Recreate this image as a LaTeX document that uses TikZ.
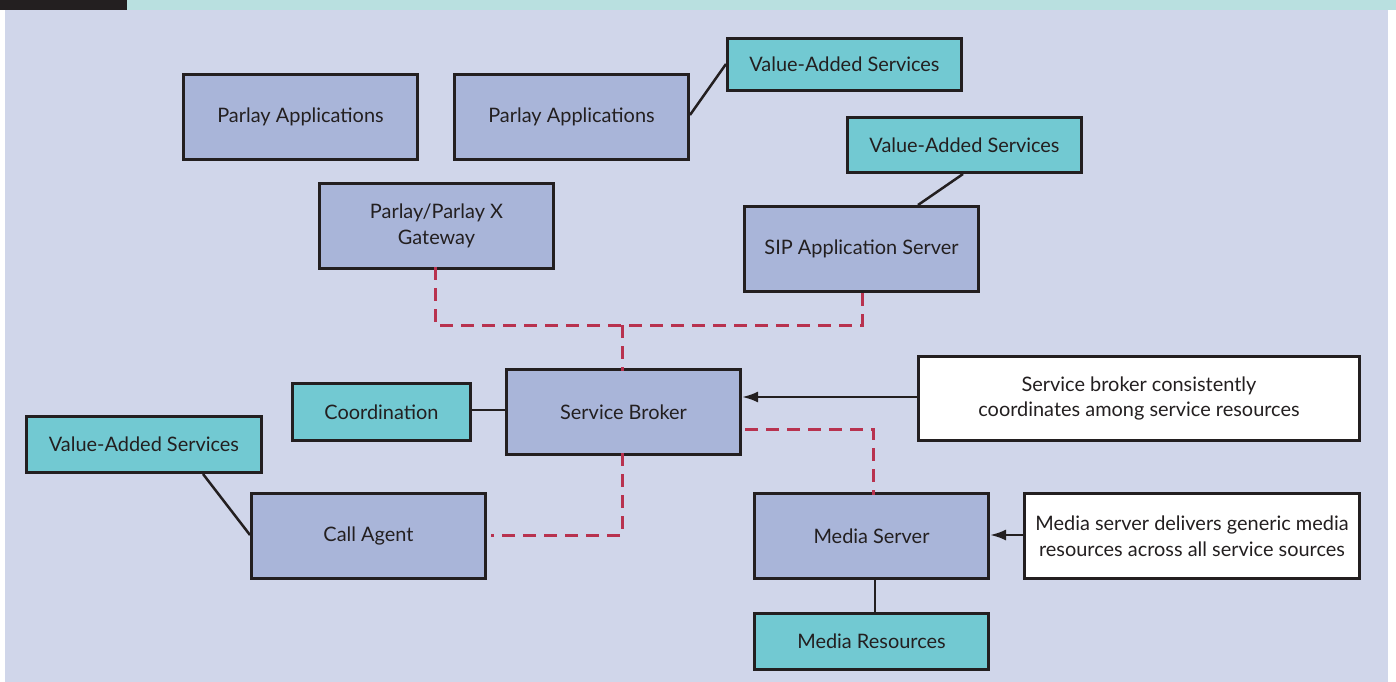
\documentclass[tikz,border=0pt]{standalone}
\usepackage{fontspec}
\setmainfont{Lato}
\usetikzlibrary{arrows.meta}
\definecolor{pagebg}{HTML}{D0D6EA}
\definecolor{bandbg}{HTML}{B9E0E0}
\definecolor{inkdark}{HTML}{231F20}
\definecolor{boxblue}{HTML}{A9B5D9}
\definecolor{boxteal}{HTML}{72C9D2}
\definecolor{linkred}{HTML}{B8324F}
\tikzset{
  base/.style={draw=inkdark, line width=3bp, anchor=north west, inner sep=0pt,
    align=center, font=\fontsize{20}{26}\selectfont, text=inkdark},
  bluebox/.style={base, fill=boxblue},
  tealbox/.style={base, fill=boxteal},
  notebox/.style={base, fill=white},
  link/.style={draw=inkdark, line width=2.5bp},
  ctrl/.style={draw=linkred, line width=3bp, dash pattern=on 13bp off 8bp},
  pointer/.style={link, -{Latex[length=16bp,width=11bp]}}
}
\begin{document}
\begin{tikzpicture}[x=1bp, y=-1bp]
\useasboundingbox (0,0) rectangle (1396,682);
% frame
\fill[white] (0,0) rectangle (1396,682);
\fill[pagebg] (5,10) rectangle (1388,682);
\fill[inkdark] (0,0) rectangle (127,10);
\fill[bandbg] (127,0) rectangle (1396,10);

% boxes
\node[bluebox, minimum width=234bp, minimum height=85bp] (pa1) at (182,73) {Parlay Applications};
\node[bluebox, minimum width=234bp, minimum height=85bp] (pa2) at (453,73) {Parlay Applications};
\node[tealbox, minimum width=234bp, minimum height=52bp] (vas1) at (726,37) {Value-Added Services};
\node[tealbox, minimum width=234bp, minimum height=55bp] (vas2) at (846,116) {Value-Added Services};
\node[bluebox, minimum width=234bp, minimum height=85bp] (gw) at (318,182) {Parlay/Parlay X\\Gateway};
\node[bluebox, minimum width=234bp, minimum height=85bp] (sip) at (743,205) {SIP Application Server};
\node[tealbox, minimum width=178bp, minimum height=57bp] (coord) at (291,382) {Coordination};
\node[bluebox, minimum width=234bp, minimum height=85bp] (sb) at (505,368) {Service Broker};
\node[notebox, minimum width=441bp, minimum height=84bp] (n1) at (917,355) {Service broker consistently\\coordinates among service resources};
\node[tealbox, minimum width=235bp, minimum height=56bp] (vas3) at (25,415) {Value-Added Services};
\node[bluebox, minimum width=234bp, minimum height=85bp] (ca) at (250,492) {Call Agent};
\node[bluebox, minimum width=234bp, minimum height=85bp] (ms) at (753,492) {Media Server};
\node[notebox, minimum width=335bp, minimum height=85bp] (n2) at (1023,492) {Media server delivers generic media\\resources across all service sources};
\node[tealbox, minimum width=234bp, minimum height=56bp] (mr) at (753,612) {Media Resources};

% plain attachments
\draw[link] (pa2.east |- 0,115) -- (vas1.west |- 0,64);
\draw[link] (vas2.south -| 963,0) -- (sip.north -| 918,0);
\draw[link] (coord.east |- 0,410) -- (sb.west |- 0,410);
\draw[link] (vas3.south -| 203,0) -- (ca.west |- 0,535);
\draw[link] (ms.south -| 875,0) -- (mr.north -| 875,0);

% annotations
\draw[pointer] (n1.west |- 0,397) -- (sb.east |- 0,397);
\draw[pointer] (n2.west |- 0,535) -- (ms.east |- 0,535);

% broker control paths
\coordinate (junc) at (622,325);
\draw[ctrl] ([yshift=3bp]gw.south -| 435,0) -- (435,325) -- (862,325) -- ([yshift=3bp]sip.south -| 862,0);
\draw[ctrl] (junc) -- ([yshift=-3bp]sb.north -| 622,0);
\draw[ctrl] ([xshift=3bp]sb.east |- 0,429) -- (873,429) -- ([yshift=-3bp]ms.north -| 873,0);
\draw[ctrl] ([yshift=3bp]sb.south -| 622,0) -- (622,535) -- ([xshift=4bp]ca.east |- 0,535);
\end{tikzpicture}
\end{document}
